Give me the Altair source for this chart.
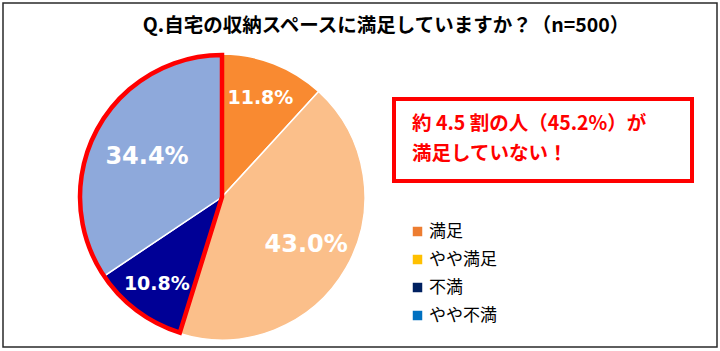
import altair as alt
import pandas as pd

# ---- data ----
categories = ["満足", "やや満足", "不満", "やや不満"]
values = [11.8, 43.0, 10.8, 34.4]
labels = ["11.8%", "43.0%", "10.8%", "34.4%"]
dissatisfied = ["不満", "やや不満"]
title_text = "Q.自宅の収納スペースに満足していますか？（n=500）"
callout_lines = ["約 4.5 割の人（45.2%）が", "満足していない！"]

# ---- styles / layout ----
slice_colors = ["#F98A31", "#FBBF8A", "#000096", "#8EA9DB"]
legend_colors = ["#ED7D31", "#FFC000", "#002060", "#0070C0"]
W, H = 720, 351
CX, CY, R = 222, 197, 143
label_radius = {"11.8%": 106, "43.0%": 97, "10.8%": 109, "34.4%": 85}
label_size = {"11.8%": 19, "43.0%": 24, "10.8%": 19, "34.4%": 24}
JP = "Noto Sans CJK JP"

df = pd.DataFrame({"category": categories, "value": values, "label": labels,
                   "order": list(range(len(categories)))})

base = (
    alt.Chart(df)
    .transform_joinaggregate(total="sum(value)")
    .transform_window(cum="sum(value)", sort=[alt.SortField("order")], frame=[None, 0])
    .transform_calculate(
        t0="(datum.cum - datum.value) / datum.total * 2 * PI",
        t1="datum.cum / datum.total * 2 * PI",
        tm="(datum.cum - datum.value / 2) / datum.total * 2 * PI",
    )
)

one = pd.DataFrame({"k": [0]})

frame = alt.Chart(one).mark_rect(fill="white", stroke="#2a2a2a", strokeWidth=1.5).encode(
    x=alt.value(3), x2=alt.value(717), y=alt.value(3), y2=alt.value(347)
)

pie = base.mark_arc(stroke="white", strokeWidth=1.5).encode(
    theta=alt.Theta("t0:Q", scale=None),
    theta2="t1:Q",
    fill=alt.Fill("category:N", scale=alt.Scale(domain=categories, range=slice_colors), legend=None),
    x=alt.value(CX), y=alt.value(CY), radius=alt.value(R),
)

highlight = (
    base.transform_filter(alt.FieldOneOfPredicate(field="category", oneOf=dissatisfied))
    .transform_aggregate(a0="min(t0)", a1="max(t1)")
    .mark_arc(fill="transparent", stroke="#FF0000", strokeWidth=4.5, strokeJoin="miter")
    .encode(
        theta=alt.Theta("a0:Q", scale=None), theta2="a1:Q",
        x=alt.value(CX), y=alt.value(CY), radius=alt.value(R - 1),
    )
)

text_layers = []
for lab in labels:
    text_layers.append(
        base.transform_filter(alt.datum.label == lab)
        .mark_text(font="DejaVu Sans", fontWeight="bold", fontSize=label_size[lab],
                   color="white", align="center", baseline="middle")
        .encode(theta=alt.Theta("tm:Q", scale=None), radius=alt.value(label_radius[lab]),
                text="label:N", x=alt.value(CX), y=alt.value(CY))
    )

legend_layer = alt.Chart(df).mark_square(opacity=0).encode(
    color=alt.Color(
        "category:N",
        scale=alt.Scale(domain=categories, range=legend_colors),
        sort=categories,
        legend=alt.Legend(title=None, orient="none", legendX=409, legendY=223,
                          symbolType="square", symbolSize=90, symbolOpacity=1,
                          symbolStrokeWidth=0, labelFontSize=17, labelFont=JP,
                          labelColor="black", rowPadding=10, labelOffset=3),
    ),
    x=alt.value(0), y=alt.value(0),
)

title = alt.Chart(one).mark_text(font=JP, fontWeight="bold", fontSize=19.5, color="black",
                                 align="center", baseline="middle").encode(
    x=alt.value(386), y=alt.value(26), text=alt.value(title_text)
)

box = alt.Chart(one).mark_rect(fill="white", stroke="#FF0000", strokeWidth=4).encode(
    x=alt.value(394), x2=alt.value(692), y=alt.value(99), y2=alt.value(181)
)

callout = alt.Chart(one).mark_text(font=JP, fontWeight="bold", fontSize=19.5, color="#FF0000",
                                   align="left", baseline="top", lineHeight=30).encode(
    x=alt.value(412), y=alt.value(115), text=alt.value(callout_lines)
)

chart = (
    alt.layer(frame, pie, highlight, *text_layers, legend_layer, title, box, callout)
    .resolve_scale(color="independent", fill="independent")
    .properties(width=W, height=H, autosize="none", padding=0)
    .configure_view(stroke=None)
)

chart.save("out.html", embed_options={"renderer": "svg", "actions": False})
